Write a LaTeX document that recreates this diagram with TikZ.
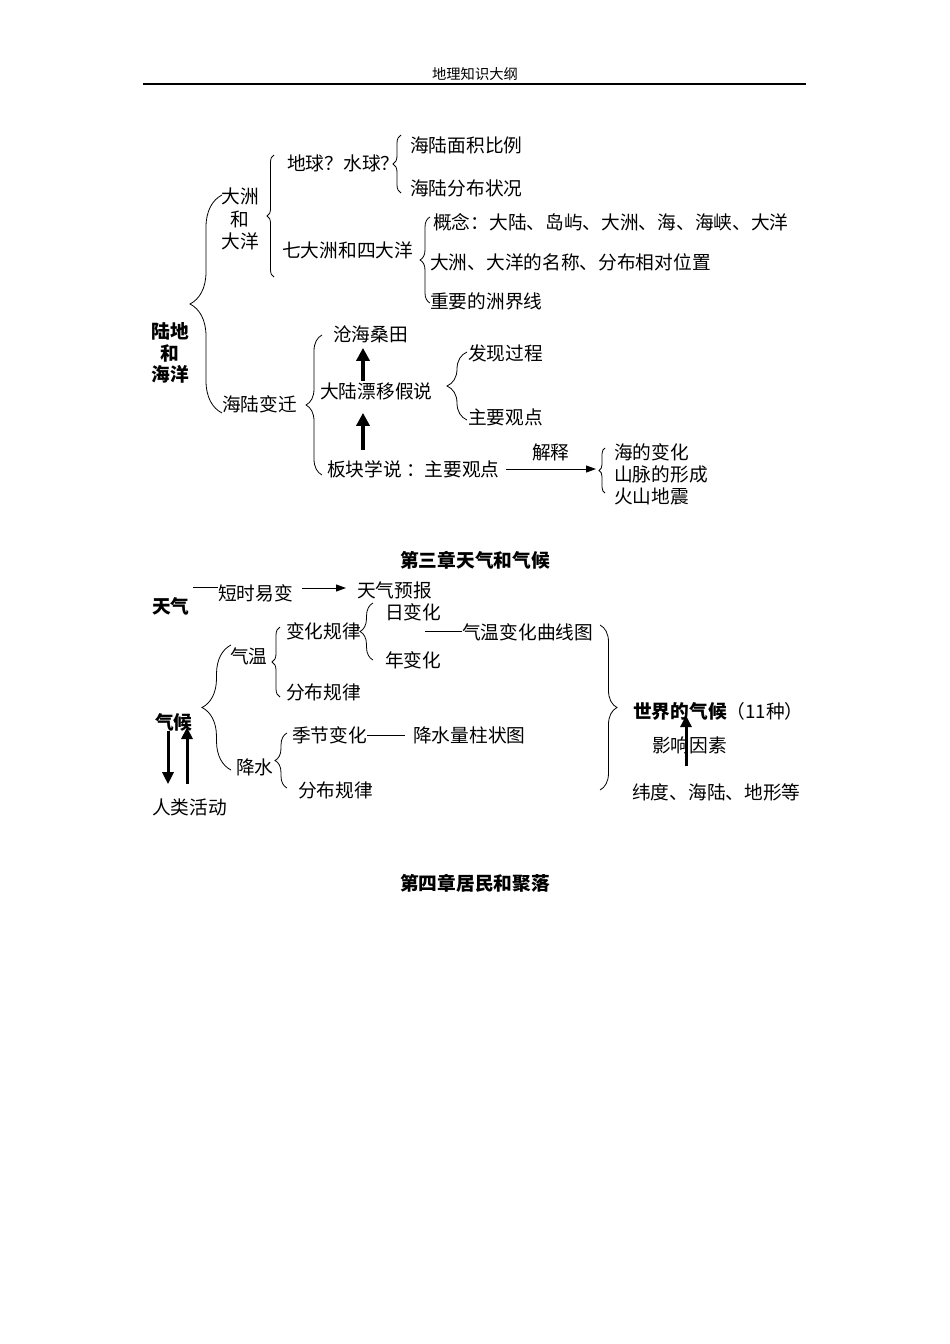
\documentclass[tikz,border=0pt]{standalone}
\usepackage{fontspec}
\setmainfont{Noto Sans CJK SC}
\usetikzlibrary{arrows.meta,decorations.pathreplacing,calc}
\newcommand\nsz{\fontsize{18.7pt}{22pt}\selectfont}
\tikzset{
  txt/.style={anchor=west, inner sep=0pt, font=\nsz},
  ctr/.style={inner sep=0pt, font=\nsz},
  brc/.style={decorate, decoration={brace, amplitude=#1}, line width=0.8pt},
  thk/.style={line width=3.5pt, -{Triangle[width=13pt,length=13pt]}},
  thk2/.style={line width=3pt, -{Triangle[width=11pt,length=12pt]}},
  thn/.style={line width=1pt, -{Triangle[width=7pt,length=10pt]}},
  lnk/.style={line width=0.9pt}
}
\begin{document}
\begin{tikzpicture}[x=1pt,y=-1pt]
\useasboundingbox[fill=white] (0,0) rectangle (950,1344);
% header
\node[inner sep=0pt, font=\fontsize{14.3pt}{16pt}\selectfont] (hdr) at (475,74) {地理知识大纲};
\draw[line width=1.2pt] (143,84) -- (806,84);

% ---------- section 1 ----------
\node[ctr, align=center, font=\fontsize{18.7pt}{21.5pt}\selectfont\bfseries] (ldhy) at (170,353) {陆地\\和\\海洋};
\node[ctr, align=center, font=\fontsize{18.7pt}{22.5pt}\selectfont] (dzhdy) at (240,219) {大洲\\和\\大洋};
\node[txt] (dq) at (287,163) {地球？水球？};
\node[txt] (hl1) at (410,145) {海陆面积比例};
\node[txt] (hl2) at (410,188) {海陆分布状况};
\node[txt] (qd) at (282,250) {七大洲和四大洋};
\node[txt] (gn) at (433,222) {概念：大陆、岛屿、大洲、海、海峡、大洋};
\node[txt] (dz) at (430,262) {大洲、大洋的名称、分布相对位置};
\node[txt] (zy) at (430,301) {重要的洲界线};
\node[txt] (hlbq) at (222,404) {海陆变迁};
\node[txt] (ch) at (333,334) {沧海桑田};
\node[txt] (dl) at (320,391) {大陆漂移假说};
\node[txt] (fx) at (468,353) {发现过程};
\node[txt] (zg) at (468,417) {主要观点};
\node[txt] (bk) at (327,469) {板块学说 ：主要观点};
\node[txt] (hd) at (614,452) {海的变化};
\node[txt] (sm) at (614,474) {山脉的形成};
\node[txt] (hs) at (614,496) {火山地震};

% braces section 1
\draw[brc=32] (222,413) -- (222,195);
\draw[brc=7] (274,277) -- (274,155);
\draw[brc=8] (401,193) -- (401,135);
\draw[brc=10] (430,303) -- (430,217);
\draw[brc=16] (322,475) -- (322,335);
\draw[brc=20] (467,420) -- (467,352);
\draw[brc=6] (605,493) -- (605,448);

% arrows section 1
\draw[thk] ($(dl.north west)+(43,-1)$) -- ($(ch.south west)+(30,5)$);
\draw[thk] ($(bk.north west)+(36,-10)$) -- ($(dl.south west)+(43,13)$);
\coordinate (jsend) at (596,469);
\draw[thn] ($(bk.east)+(6,0)$) -- node[above=7pt, inner sep=0pt, font=\nsz] (jsh) {解释} (jsend);

% ---------- section 2 ----------
\node[ctr, font=\nsz\bfseries] (ch3) at (475,560) {第三章天气和气候};
\node[txt, font=\nsz\bfseries] (tq) at (152,606) {天气};
\node[txt] (dsyb) at (218,593) {短时易变};
\node[txt] (tqyb) at (357,590) {天气预报};
\coordinate (tqline) at (193,587);
\draw[lnk] (tqline) -- (tqline -| dsyb.west);
\draw[thn] ($(dsyb.east)+(9,-5)$) -- ($(tqyb.west)+(-11,-2)$);

\node[txt] (rbh) at (385,612) {日变化};
\node[txt] (bhgl) at (286,631) {变化规律};
\node[txt] (nbh) at (385,660) {年变化};
\node[txt] (qwqx) at (462,632) {气温变化曲线图};
\coordinate (qwline) at (425,631);
\draw[lnk] (qwline) -- (qwline -| qwqx.west);
\node[txt] (qw) at (230,656) {气温};
\node[txt] (fbgl1) at (286,692) {分布规律};
\node[txt, font=\nsz\bfseries] (qh) at (155,722) {气候};
\node[txt] (jjbh) at (292,735) {季节变化};
\node[txt] (jsl) at (413,735) {降水量柱状图};
\draw[lnk] (jjbh.east) -- ($(jsl.west)+(-8,0)$);
\node[txt] (js) at (236,767) {降水};
\node[txt] (fbgl2) at (298,790) {分布规律};
\node[txt] (rlhd) at (152,807) {人类活动};
\node[txt] (sj) at (633,711) {\bfseries 世界的气候\mdseries（11种）};
\node[txt] (yx) at (652,745) {影响因素};
\node[txt] (wd) at (632,792) {纬度、海陆、地形等};

% braces section 2
\draw[brc=13] (373,660) -- (373,603);
\draw[brc=8] (280,697) -- (280,627);
\draw[brc=29] (231,770) -- (231,645);
\draw[brc=12] (287,788) -- (287,733);
\draw[brc=17] (600,625) -- (600,790);

% arrows section 2
\draw[thk2] ($(qh.south west)+(13,0)$) -- ($(rlhd.north west)+(16,-14)$);
\draw[thk2] ($(rlhd.north west)+(35,-14)$) -- ($(qh.south west)+(32,-4)$);
\draw[thk2] ($(wd.north west)+(54,-17)$) -- ($(sj.south west)+(53,-5)$);

% ---------- section 3 ----------
\node[ctr, font=\nsz\bfseries] (ch4) at (475,883) {第四章居民和聚落};
\end{tikzpicture}
\end{document}
